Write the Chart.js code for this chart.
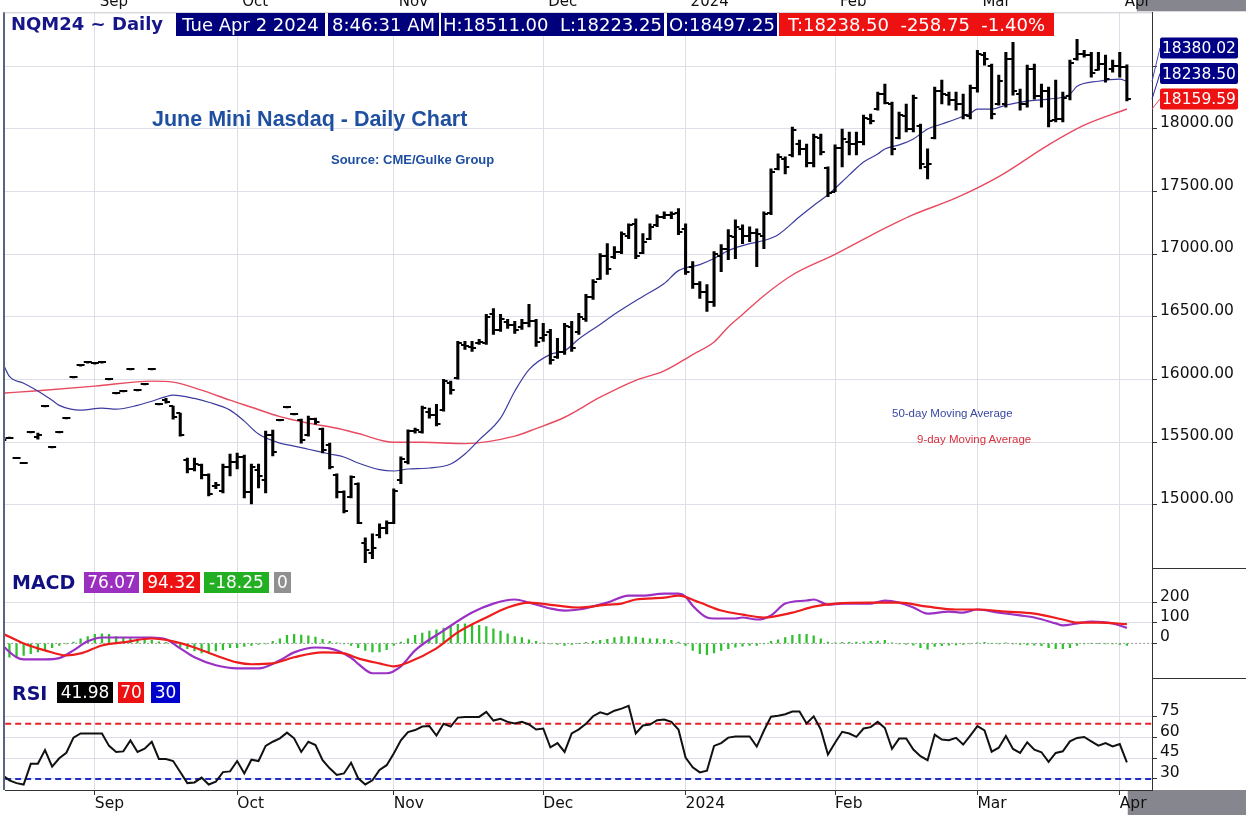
<!DOCTYPE html>
<html>
<head>
<meta charset="utf-8">
<title>NQM24 Daily</title>
<script src="https://cdn.jsdelivr.net/npm/chart.js@4.4.1/dist/chart.umd.min.js"></script>
<style>
  body { margin: 0; background: #fff; }
  #wrap { position: relative; width: 1246px; height: 815px; overflow: hidden; }
  #chart { position: absolute; left: 0; top: 0; }
  .lbl { position: absolute; white-space: pre; font-family: 'DejaVu Sans', sans-serif; line-height: 1; }
  .box { position: absolute; color: #fff; text-align: center; white-space: pre; overflow: hidden; font-family: 'DejaVu Sans', sans-serif; }
  .hd { top: 13px; height: 23px; line-height: 23px; font-size: 18px; background: #00007c; }
  .mc { top: 572px; height: 21px; line-height: 21px; font-size: 17px; }
  .rs { top: 682px; height: 21px; line-height: 21px; font-size: 17px; }
</style>
</head>
<body>
<div id="wrap">
  <canvas id="chart" width="1246" height="815"></canvas>

  <div class="lbl" style="left:11px;top:15px;font-size:18px;font-weight:bold;color:#16168a">NQM24 ~ Daily</div>
  <div class="box hd" style="left:176px;width:149px">Tue Apr 2 2024</div>
  <div class="box hd" style="left:328px;width:111px">8:46:31 AM</div>
  <div class="box hd" style="left:441px;width:223px">H:18511.00  L:18223.25</div>
  <div class="box hd" style="left:667px;width:110px">O:18497.25</div>
  <div class="box hd" style="left:779px;width:275px;background:#ee1111">T:18238.50  -258.75  -1.40%</div>

  <div class="lbl" style="left:152px;top:109px;font-family:'Liberation Sans',sans-serif;font-size:21.5px;font-weight:bold;color:#1f4fa0">June Mini Nasdaq - Daily Chart</div>
  <div class="lbl" style="left:331px;top:153px;font-family:'Liberation Sans',sans-serif;font-size:13px;font-weight:bold;color:#1f4fa0">Source: CME/Gulke Group</div>
  <div class="lbl" style="left:892px;top:408px;font-family:'Liberation Sans',sans-serif;font-size:11.5px;color:#3a48a0">50-day Moving Average</div>
  <div class="lbl" style="left:917px;top:434px;font-family:'Liberation Sans',sans-serif;font-size:11.5px;color:#d8303e">9-day Moving Average</div>

  <div class="lbl" style="left:12px;top:573px;font-size:19px;font-weight:bold;color:#101080">MACD</div>
  <div class="box mc" style="left:84px;width:55px;background:#9b2fc0">76.07</div>
  <div class="box mc" style="left:143px;width:57px;background:#ee1111">94.32</div>
  <div class="box mc" style="left:204px;width:65px;background:#22b022">-18.25</div>
  <div class="box mc" style="left:274px;width:17px;background:#909090">0</div>

  <div class="lbl" style="left:12px;top:684px;font-size:19px;font-weight:bold;color:#101080">RSI</div>
  <div class="box rs" style="left:57px;width:56px;background:#000">41.98</div>
  <div class="box rs" style="left:118px;width:26px;background:#ee1111">70</div>
  <div class="box rs" style="left:151px;width:29px;background:#0000cc">30</div>
</div>

<script>
// ---- data (one entry per trading day, Aug 15 2023 .. Apr 2 2024) ----
const monthStarts = [13, 33, 55, 76, 96, 117, 137, 157];
const monthNames = ['Sep', 'Oct', 'Nov', 'Dec', '2024', 'Feb', 'Mar', 'Apr'];

const opens = [
  15520,15536,15375,15335,15582,15540,15789,15462,15582,15693,
  16019,16114,16138,16130,16138,16003,15892,15908,16083,15916,
  15964,16083,15804,15840,15789,15733,15360,15290,15320,15240,
  15150,15110,15300,15340,15380,15100,15280,15200,15560,15677,
  15780,15725,15680,15560,15690,15610,15480,15240,15100,15060,
  15170,14700,14620,14760,14820,14860,15200,15340,15590,15580,
  15740,15720,15760,15970,16010,16280,16260,16290,16290,16520,
  16400,16460,16440,16420,16450,16470,16330,16380,16180,16220,
  16420,16380,16480,16660,16800,16990,16980,17020,17150,17240,
  17010,17120,17230,17300,17310,17330,17200,16900,16760,16700,
  16620,16990,17040,17140,17200,17150,17170,17150,17330,17680,
  17760,17790,17880,17840,17730,17930,17690,17500,17850,17900,
  17880,17900,18080,18160,18280,18200,17930,18100,18000,18020,
  17700,17930,18300,18270,18230,18200,18100,18330,18590,18500,
  18200,18200,18560,18280,18200,18480,18260,18300,18070,18080,
  18260,18560,18600,18590,18470,18520,18480,18500,18497.25
];
const highs = [
  15526,15542,15381,15341,15588,15574,15795,15468,15588,15699,
  16025,16120,16144,16136,16144,16009,15898,15914,16089,15922,
  15970,16089,15810,15852,15789,15733,15375,15375,15327,15248,
  15180,15327,15407,15415,15399,15327,15327,15590,15598,15683,
  15786,15731,15685,15709,15693,15614,15494,15248,15113,15232,
  15176,14738,14770,14850,14874,15128,15385,15600,15614,15789,
  15773,15804,16003,15988,16306,16306,16306,16322,16521,16568,
  16521,16481,16465,16481,16600,16481,16449,16401,16330,16449,
  16465,16529,16680,16799,17006,17085,17061,17180,17244,17284,
  17165,17244,17316,17340,17340,17364,17244,16942,16783,16759,
  17022,17077,17197,17276,17236,17220,17204,17340,17682,17801,
  17777,18016,17912,17880,17960,17960,17698,17873,18000,17976,
  17976,18111,18119,18294,18358,18215,18135,18199,18270,18040,
  17841,18334,18390,18294,18294,18278,18350,18628,18612,18517,
  18430,18612,18692,18318,18509,18517,18358,18334,18390,18294,
  18549,18716,18628,18612,18612,18589,18549,18612,18511
];
const lows = [
  15514,15530,15369,15329,15576,15526,15783,15456,15576,15687,
  16013,16108,16132,16124,16132,15997,15886,15902,16077,15910,
  15958,16077,15798,15812,15685,15550,15256,15271,15208,15073,
  15130,15097,15232,15287,15057,15009,15137,15097,15391,15671,
  15774,15719,15494,15550,15645,15415,15287,15057,14937,15057,
  14850,14540,14571,14738,14770,14850,15170,15327,15574,15574,
  15693,15630,15749,15884,16003,16242,16226,16282,16282,16361,
  16385,16409,16369,16401,16420,16266,16306,16123,16170,16202,
  16226,16361,16465,16640,16799,16839,16966,17006,17125,16966,
  17006,17117,17220,17284,17284,17157,16839,16727,16648,16544,
  16584,16862,16958,16966,17085,17100,16902,17045,17316,17674,
  17642,17777,17793,17698,17698,17793,17459,17499,17698,17793,
  17793,17873,18040,18151,18199,17793,17920,17976,17976,17682,
  17602,17920,18199,18191,18151,18080,18080,18294,18509,18080,
  18191,18175,18270,18151,18175,18238,18175,18016,18056,18056,
  18231,18549,18573,18414,18469,18374,18453,18414,18223.25
];
const closes = [
  15520,15536,15375,15335,15582,15560,15789,15462,15582,15693,
  16019,16114,16138,16130,16138,16003,15892,15908,16083,15916,
  15964,16083,15804,15825,15700,15555,15290,15330,15240,15090,
  15160,15300,15340,15380,15100,15300,15230,15560,15420,15677,
  15780,15725,15520,15690,15660,15440,15300,15100,14950,15220,
  14860,14640,14660,14820,14860,15110,15370,15590,15595,15770,
  15720,15650,15990,15920,16290,16270,16250,16300,16500,16400,
  16480,16440,16400,16450,16470,16300,16360,16160,16220,16430,
  16250,16500,16660,16780,16990,16880,17020,17160,17230,16990,
  17100,17220,17300,17310,17320,17180,16860,16760,16700,16620,
  17000,17040,17150,17220,17150,17170,17160,17320,17660,17780,
  17700,17990,17840,17730,17940,17820,17490,17850,17920,17880,
  17900,18090,18060,18280,18210,17840,18110,18000,18250,17720,
  17720,18300,18280,18230,18200,18110,18330,18600,18560,18120,
  18380,18560,18300,18200,18480,18260,18300,18060,18080,18250,
  18530,18600,18590,18450,18520,18400,18500,18497,18238.5
];

// moving averages at these day indexes
const fastMaIdx = [0,1,3,5,7,8,11,14,16,19,21,23,24,27,29,32,34,36,39,41,43,46,48,50,53,55,57,60,63,65,67,70,72,74,77,79,81,84,86,90,93,95,98,100,102,105,107,109,112,114,116,119,121,123,124,126,128,130,132,134,136,137,139,141,144,147,150,151,154,157,158];
const fastMaVal = [16140,16027,15972,15910,15835,15795,15757,15773,15765,15795,15828,15865,15876,15850,15820,15757,15669,15566,15494,15470,15445,15407,15383,15335,15282,15271,15287,15295,15327,15407,15520,15693,15908,16080,16202,16230,16325,16441,16521,16664,16767,16870,16918,16966,17030,17085,17110,17157,17300,17390,17475,17634,17737,17800,17841,17873,17920,18000,18040,18080,18125,18159,18159,18191,18223,18238,18278,18340,18381,18398,18380.02];
const slowMaIdx = [0,5,13,21,24,28,32,35,39,43,47,50,55,59,65,72,75,79,84,89,93,97,100,102,104,107,111,117,122,128,134,140,147,152,158];
const slowMaVal = [15892,15912,15948,15988,15980,15916,15836,15780,15705,15653,15612,15570,15500,15500,15490,15550,15610,15700,15860,15995,16070,16200,16300,16420,16520,16670,16835,17000,17150,17316,17450,17620,17873,18030,18159.59];

const macdIdx = [0,2,3,6,8,10,12,14,17,21,23,25,27,30,33,36,39,41,44,46,49,50,52,54,56,58,62,66,69,72,74,77,79,81,85,88,90,93,95,96,97,99,100,103,104,106,108,110,113,114,116,118,122,124,126,128,130,133,135,137,140,143,145,148,149,151,153,156,158];
const macdVal = [-10,-68,-78,-78,-72,-34,10,29,29,29,20,-24,-68,-107,-122,-122,-83,-44,-20,-24,-70,-100,-146,-146,-112,-34,63,151,195,215,200,171,161,166,200,234,234,244,244,229,185,127,122,122,127,117,137,195,210,215,190,195,195,210,200,176,146,156,151,166,151,137,127,98,88,98,107,98,76.07];
const signalIdx = [0,3,6,9,11,14,17,21,24,27,30,33,35,38,41,45,48,50,53,55,57,61,64,68,71,74,78,81,85,87,89,93,95,98,101,104,107,111,114,117,122,126,130,134,137,141,145,149,151,154,158];
const signalVal = [49,0,-34,-59,-49,-10,5,24,10,-20,-59,-93,-102,-98,-68,-44,-49,-73,-98,-112,-93,-24,54,127,176,200,185,176,190,195,215,224,234,200,161,141,127,151,180,195,200,200,180,166,166,156,146,117,102,102,94.32];
const histVal = [
  -60,-67,-67,-59,-50,-42,-31,-21,-10,-2,
  7,23,34,44,47,44,34,28,28,23,
  23,15,8,5,-2,-18,-26,-37,-47,-42,
  -37,-31,-21,-21,-15,-10,-5,-2,10,23,
  39,44,41,37,31,20,10,2,-2,-10,
  -21,-34,-42,-42,-31,-10,7,23,39,51,
  60,67,75,83,93,96,93,88,83,72,
  60,47,34,28,18,10,3,-2,-5,-10,
  -5,0,5,10,15,20,28,34,34,31,
  26,23,23,20,15,7,-10,-34,-50,-55,
  -47,-34,-26,-18,-13,-10,-10,-2,10,18,
  28,39,44,44,37,23,7,2,5,5,
  7,8,10,11,15,2,-2,-5,-8,-21,
  -28,-15,-11,-8,-7,-5,-2,2,5,0,
  -3,2,-2,-5,-7,-8,-11,-21,-26,-26,
  -21,-10,-2,0,0,-2,-3,-5,-10
];
const rsiVal = [
  33,29,27,26,41,41,51,39,45,49,
  60,63,63,63,63,54,49.6,50,58,49.6,
  52,57,44.5,44.5,43,35,27,27.5,31,26,
  28,35,35.5,43,34,44,43,54,57,59.5,
  63.6,59.5,49.6,57,54.6,43.7,37.7,32.9,34,41.8,
  30.5,26,29,36.5,40,48.5,58,64,65.5,68,
  68.4,61.5,70,68,74.5,75,75,75,78.6,72.4,
  73.6,71.4,70.2,71.4,69.5,65.9,66.6,53,56,49.6,
  63,66,70,75.5,78.3,76.8,79.5,81,83,63,
  68.8,69.5,72.6,73.1,71.4,65.9,45.6,38.4,34.8,36,
  54,56,60,60.8,60.8,60.8,53.5,65,75.2,75.9,
  77,78.9,78.9,70.3,75.4,65.9,47.8,56.3,64.2,63,
  60.6,66.6,67.6,71.4,67,51.8,59.3,59.3,51.3,46.5,
  43.6,62.2,58.6,58.1,59.8,55,61.5,68.3,65.2,49.8,
  52.7,61.1,51.8,48.9,56.6,51.3,49.4,42.4,48.9,50.1,
  57.3,59.8,60.5,57.3,54.2,56.1,53.6,55.3,41.98
];
const rsiLevels = [70, 30];

const priceTicks = [15000, 15500, 16000, 16500, 17000, 17500, 18000, 18500];
const macdTicks = [0, 100, 200];
const rsiTicks = [30, 45, 60, 75];
const lastValues = [18380.02, 18238.50, 18159.59];   // fast MA, last trade, slow MA

// ---- helpers ----
const gridColor = '#dedee8';
const axisFont = { family: 'DejaVu Sans', size: 15.5 };

function pairs(xs, ys) {
  return xs.map(function(x, k) { return { x: x, y: ys[k] }; });
}

// little open / close tick images for the OHLC bars
function tickImage(side) {
  var c = document.createElement('canvas');
  c.width = 10; c.height = 2;
  var g = c.getContext('2d');
  g.fillStyle = '#000';
  if (side === 'left') g.fillRect(1, 0, 4, 2); else g.fillRect(5, 0, 4, 2);
  return c;
}

var days = opens.map(function(v, i) { return i; });
var xEnds = [-1, 165];

function yAxis(weight, min, max, ticks, fmt, gridFn) {
  return {
    type: 'linear', position: 'right', stack: 'panes', stackWeight: weight,
    min: min, max: max,
    afterBuildTicks: function(s) { s.ticks = ticks.map(function(v) { return { value: v }; }); },
    afterFit: function(s) { s.width = 94; },
    grid: { color: gridFn || gridColor, tickColor: '#333', tickLength: 5 },
    border: { color: '#333' },
    ticks: { autoSkip: false, padding: 3, labelOffset: -6, color: '#111', font: axisFont, callback: fmt }
  };
}

// extra drawing: frame, separators, top month row and the value flags
const frame = {
  id: 'frame',
  beforeDraw(chart) {
    const ctx = chart.ctx, a = chart.chartArea, xs = chart.scales.x;
    ctx.save();
    ctx.fillStyle = '#86868f';
    ctx.fillRect(xs.getPixelForValue(monthStarts[7]) + 8, a.bottom, chart.width, chart.height - a.bottom);
    ctx.fillRect(xs.getPixelForValue(monthStarts[7]) + 17, 0, chart.width, a.top - 1);
    ctx.restore();
  },
  afterDraw(chart) {
    const ctx = chart.ctx, a = chart.chartArea, xs = chart.scales.x, yP = chart.scales.yP;
    ctx.save();
    ctx.fillStyle = '#5a6480';
    ctx.fillRect(a.left - 2, a.top, 2, a.bottom - a.top);
    ctx.strokeStyle = '#c8c8d0';
    ctx.lineWidth = 1;
    ctx.beginPath(); ctx.moveTo(a.left, a.top + 0.5); ctx.lineTo(a.right, a.top + 0.5); ctx.stroke();

    ctx.strokeStyle = '#333';
    [chart.scales.yM.top, chart.scales.yR.top].forEach(function(y) {
      ctx.beginPath(); ctx.moveTo(a.right, Math.round(y) + 0.5); ctx.lineTo(chart.width, Math.round(y) + 0.5); ctx.stroke();
    });

    ctx.font = '15px "DejaVu Sans"';
    ctx.fillStyle = '#111';
    ctx.textAlign = 'left';
    ctx.textBaseline = 'alphabetic';
    monthStarts.forEach(function(v, k) {
      ctx.fillText(monthNames[k], xs.getPixelForValue(v) + 5, 6);
    });

    // value flags, stacked upward from the lowest one
    const boxColors = ['#000086', '#000086', '#ee1111'];
    const lineColors = ['#4a4ab0', '#2020a0', '#e84a5f'];
    let cy = yP.getPixelForValue(lastValues[2]) - 10;
    ctx.font = '15.5px "DejaVu Sans"';
    ctx.textBaseline = 'middle';
    for (let k = 2; k >= 0; k--) {
      const vy = yP.getPixelForValue(lastValues[k]);
      ctx.strokeStyle = lineColors[k];
      ctx.beginPath(); ctx.moveTo(a.right, vy); ctx.lineTo(a.right + 8, cy); ctx.stroke();
      ctx.fillStyle = boxColors[k];
      ctx.beginPath();
      ctx.roundRect(a.right + 8, cy - 10.5, 78, 21, 2);
      ctx.fill();
      ctx.fillStyle = '#fff';
      ctx.fillText(lastValues[k].toFixed(2), a.right + 10, cy + 1);
      cy -= 25.5;
    }
    ctx.restore();
  }
};

var ctx = document.getElementById('chart').getContext('2d');
var chart = new Chart(ctx, {
  type: 'bar',
  data: {
    datasets: [
      { type: 'bar', label: 'range', yAxisID: 'yP', grouped: false, barThickness: 2.4,
        backgroundColor: '#000', borderWidth: 0,
        data: days.map(function(i) { return { x: i, y: [lows[i], highs[i]] }; }) },
      { type: 'line', label: 'open', yAxisID: 'yP', showLine: false,
        pointStyle: tickImage('left'), pointRadius: 4,
        data: pairs(days, opens) },
      { type: 'line', label: 'close', yAxisID: 'yP', showLine: false,
        pointStyle: tickImage('right'), pointRadius: 4,
        data: pairs(days, closes) },
      { type: 'line', label: '50-day', yAxisID: 'yP', borderColor: '#3c3ca0', borderWidth: 1.2,
        pointRadius: 0, cubicInterpolationMode: 'monotone', data: pairs(fastMaIdx, fastMaVal) },
      { type: 'line', label: '9-day', yAxisID: 'yP', borderColor: '#e84a5f', borderWidth: 1.4,
        pointRadius: 0, cubicInterpolationMode: 'monotone', data: pairs(slowMaIdx, slowMaVal) },

      { type: 'line', label: 'signal', yAxisID: 'yM', borderColor: '#ee1d1d', borderWidth: 2.2,
        pointRadius: 0, cubicInterpolationMode: 'monotone', data: pairs(signalIdx, signalVal) },
      { type: 'line', label: 'macd', yAxisID: 'yM', borderColor: '#9a30c4', borderWidth: 2.2,
        pointRadius: 0, cubicInterpolationMode: 'monotone', data: pairs(macdIdx, macdVal) },
      { type: 'bar', label: 'hist', yAxisID: 'yM', grouped: false, barThickness: 1.6,
        backgroundColor: '#2fc02f', borderWidth: 0, data: pairs(days, histVal) },
      { type: 'line', label: 'zero', yAxisID: 'yM', borderColor: '#9a9a9a', borderWidth: 1,
        borderDash: [2, 2], pointRadius: 0, data: pairs(xEnds, [0, 0]) },

      { type: 'line', label: 'rsi', yAxisID: 'yR', borderColor: '#111', borderWidth: 2,
        pointRadius: 0, tension: 0, data: pairs(days, rsiVal) },
      { type: 'line', label: 'rsi70', yAxisID: 'yR', borderColor: '#e8202a', borderWidth: 2,
        borderDash: [6, 4], pointRadius: 0, data: pairs(xEnds, [rsiLevels[0], rsiLevels[0]]) },
      { type: 'line', label: 'rsi30', yAxisID: 'yR', borderColor: '#2030c0', borderWidth: 2,
        borderDash: [6, 4], pointRadius: 0, data: pairs(xEnds, [rsiLevels[1], rsiLevels[1]]) }
    ]
  },
  options: {
    responsive: false,
    devicePixelRatio: 1,
    animation: false,
    layout: { padding: { left: 3, top: 10, right: 0, bottom: 0 } },
    plugins: { legend: { display: false }, tooltip: { enabled: false } },
    scales: {
      x: {
        type: 'linear', min: 0.38, max: 161.53, offset: false,
        afterBuildTicks: function(s) { s.ticks = monthStarts.map(function(v) { return { value: v }; }); },
        afterFit: function(s) { s.height = 25; },
        grid: { color: gridColor, offset: false, tickColor: '#333', tickLength: 5 },
        border: { color: '#333' },
        ticks: { autoSkip: false, maxRotation: 0, align: 'start', padding: 0, color: '#111', font: axisFont,
          callback: function(v) { return monthNames[monthStarts.indexOf(v)]; } }
      },
      yP: yAxis(557, 14500, 18931, priceTicks,
        function(v) { return v === 18500 ? '' : v.toFixed(2); }),
      yM: yAxis(111, -171, 371, macdTicks,
        function(v) { return String(v); },
        function(c) { return c.tick.value === 0 ? 'rgba(0,0,0,0)' : gridColor; }),
      yR: yAxis(112, 22, 103, rsiTicks,
        function(v) { return String(v); })
    }
  },
  plugins: [frame]
});
</script>
</body>
</html>
